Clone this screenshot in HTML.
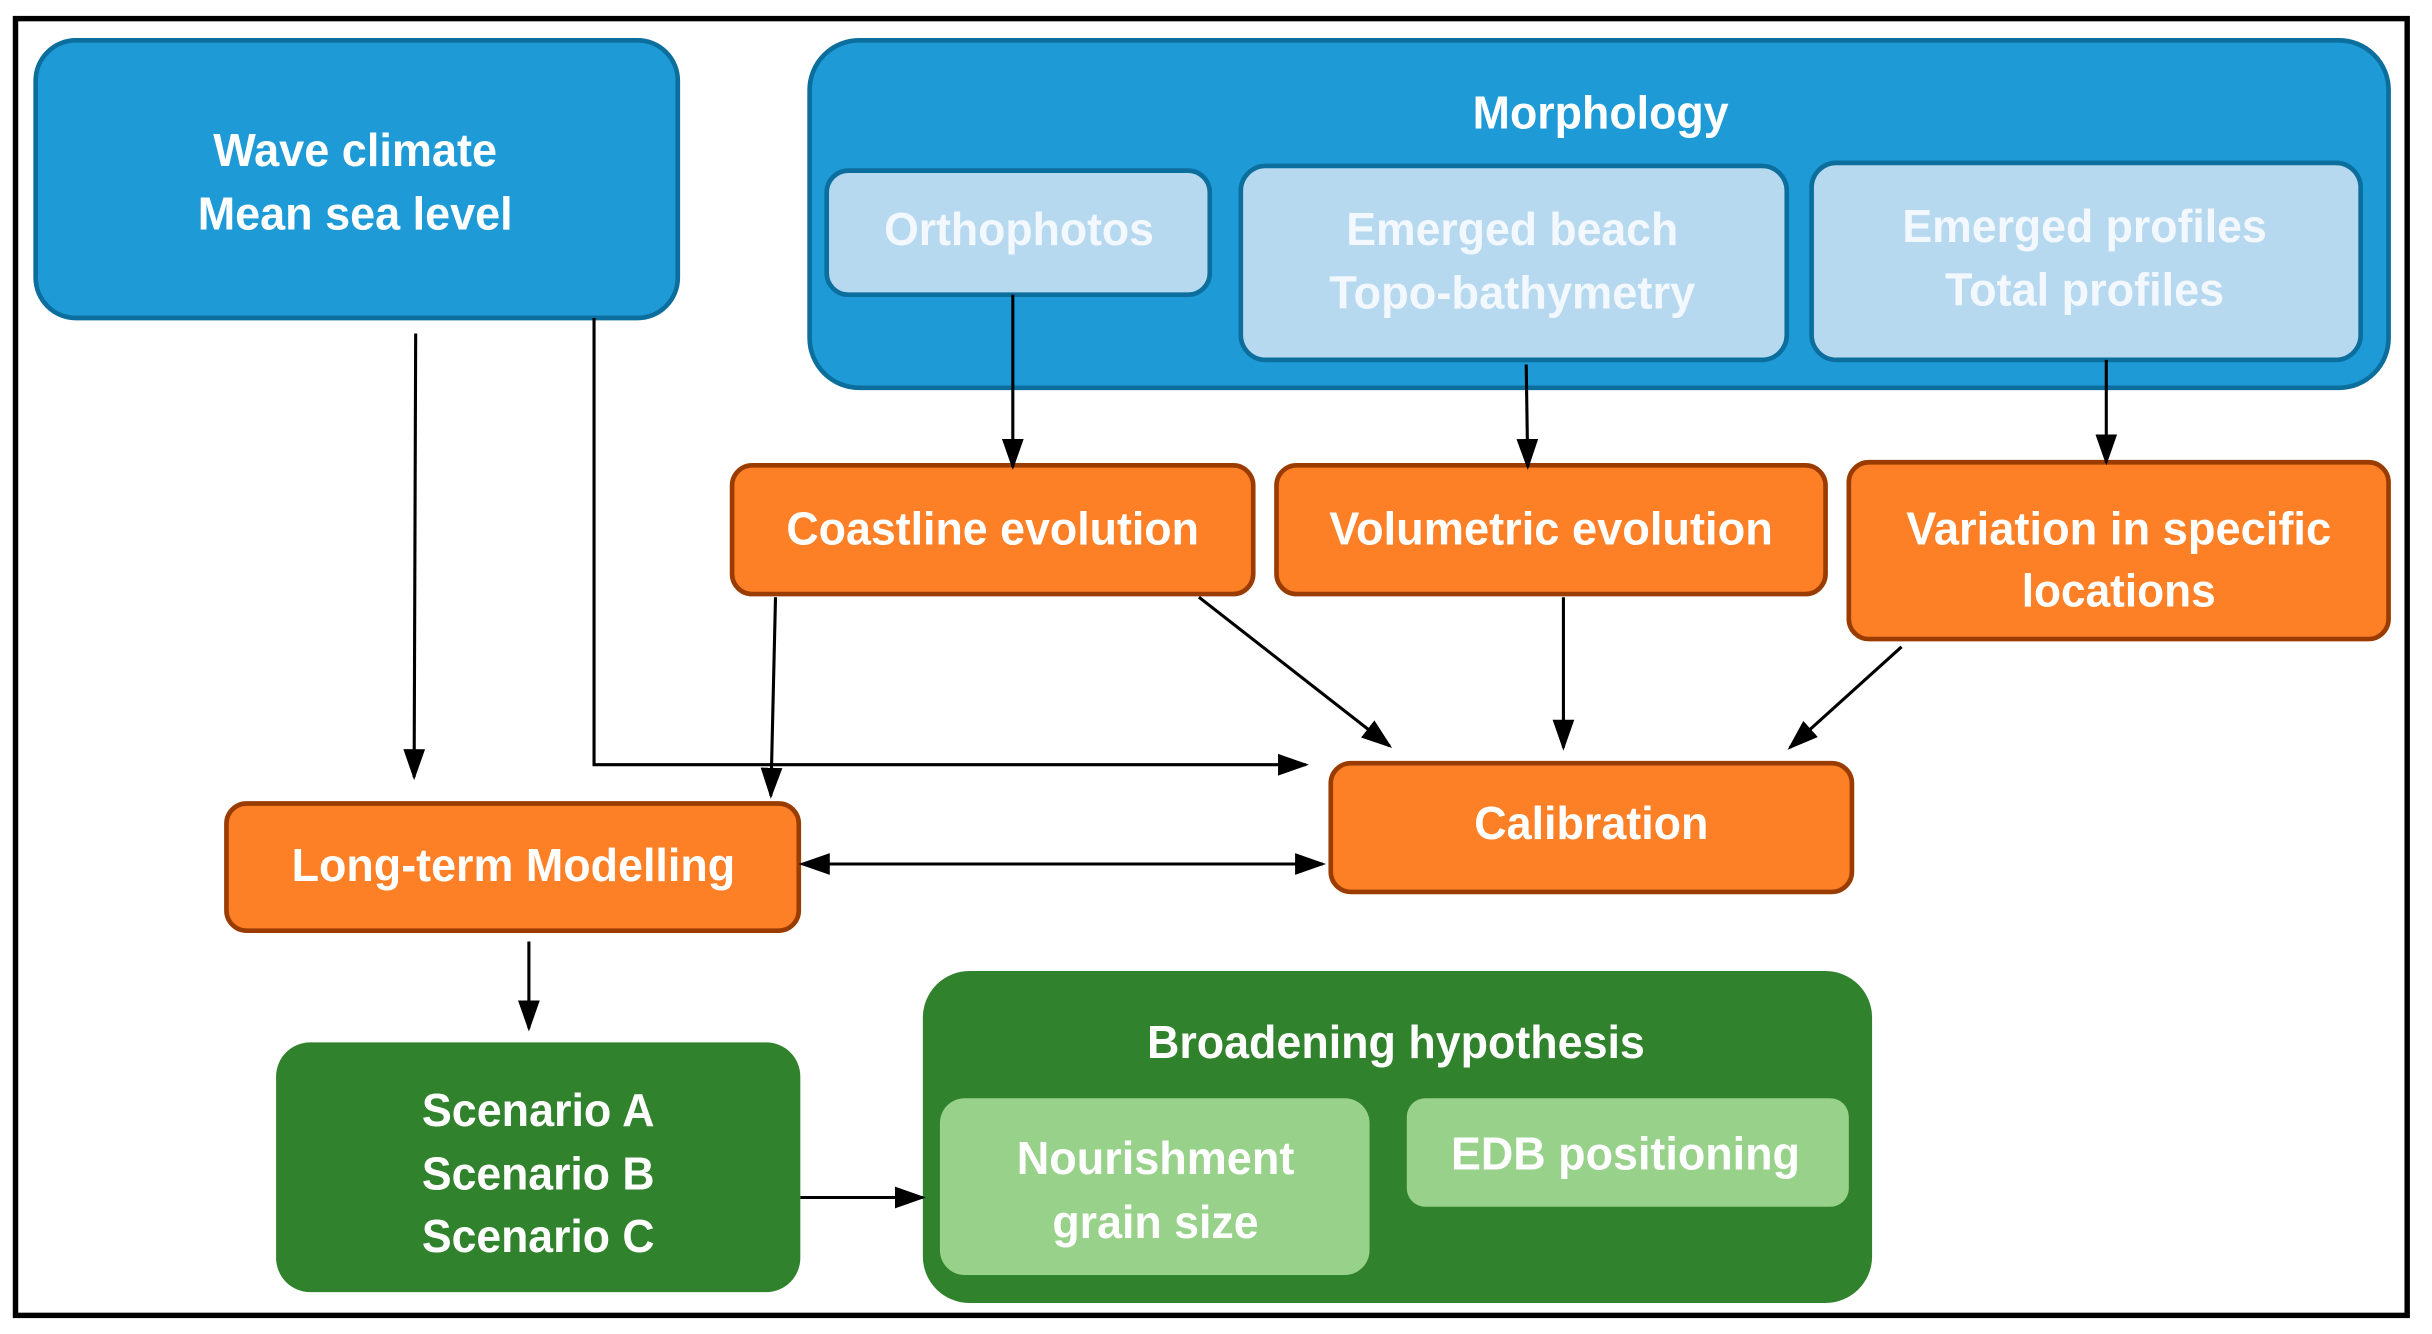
<!DOCTYPE html>
<html><head><meta charset="utf-8"><style>
html,body{margin:0;padding:0;background:#fff}
svg{display:block}
text{font-family:"Liberation Sans",sans-serif;font-weight:bold;font-size:30px;fill:#fff;text-anchor:middle}
.lt{fill:#f2f8fd}
</style></head><body>
<svg width="2432" height="1334" viewBox="0 0 1568 860" preserveAspectRatio="none" xmlns="http://www.w3.org/2000/svg">
<defs>
<marker id="ah2" markerWidth="20" markerHeight="20" refX="18" refY="7" orient="auto" markerUnits="userSpaceOnUse" viewBox="0 0 20 14">
<path d="M0,0 L20,7 L0,14 z" fill="#000"/></marker>
</defs>
<rect x="10" y="12" width="1542" height="836" fill="#fff" stroke="#000" stroke-width="3.5"/>
<rect x="23" y="26" width="414" height="179" rx="26" fill="#1e9bd7" stroke="#0b6e9c" stroke-width="3"/>
<text x="229" y="107" textLength="183" lengthAdjust="spacingAndGlyphs">Wave climate</text>
<text x="229" y="148" textLength="203" lengthAdjust="spacingAndGlyphs">Mean sea level</text>
<rect x="522" y="26" width="1018" height="224" rx="32" fill="#1e9bd7" stroke="#0b6e9c" stroke-width="3"/>
<text x="1032" y="83" textLength="165" lengthAdjust="spacingAndGlyphs">Morphology</text>
<rect x="533" y="110" width="247" height="80" rx="14" fill="#b6d9f0" stroke="#0b6e9c" stroke-width="3"/>
<text class="lt" x="657" y="158" textLength="174" lengthAdjust="spacingAndGlyphs">Orthophotos</text>
<rect x="800" y="107" width="352" height="125" rx="16" fill="#b6d9f0" stroke="#0b6e9c" stroke-width="3"/>
<text class="lt" x="975" y="158" textLength="214" lengthAdjust="spacingAndGlyphs">Emerged beach</text>
<text class="lt" x="975" y="199" textLength="236" lengthAdjust="spacingAndGlyphs">Topo-bathymetry</text>
<rect x="1168" y="105" width="354" height="127" rx="16" fill="#b6d9f0" stroke="#0b6e9c" stroke-width="3"/>
<text class="lt" x="1344" y="156" textLength="235" lengthAdjust="spacingAndGlyphs">Emerged profiles</text>
<text class="lt" x="1344" y="197" textLength="180" lengthAdjust="spacingAndGlyphs">Total profiles</text>
<g fill="#fd7f26" stroke="#9a3c00" stroke-width="3">
<rect x="472" y="300" width="336" height="83" rx="13"/>
<rect x="823" y="300" width="354" height="83" rx="13"/>
<rect x="1192" y="298" width="348" height="114" rx="13"/>
<rect x="858" y="492" width="336" height="83" rx="13"/>
<rect x="146" y="518" width="369" height="82" rx="13"/>
</g>
<text x="640" y="351" textLength="266" lengthAdjust="spacingAndGlyphs">Coastline evolution</text>
<text x="1000" y="351" textLength="286" lengthAdjust="spacingAndGlyphs">Volumetric evolution</text>
<text x="1366" y="351" textLength="274" lengthAdjust="spacingAndGlyphs">Variation in specific</text>
<text x="1366" y="391" textLength="125" lengthAdjust="spacingAndGlyphs">locations</text>
<text x="1026" y="541" textLength="151" lengthAdjust="spacingAndGlyphs">Calibration</text>
<text x="331" y="568" textLength="286" lengthAdjust="spacingAndGlyphs">Long-term Modelling</text>
<rect x="178" y="672" width="338" height="161" rx="22" fill="#31822c"/>
<text x="347" y="726" textLength="150" lengthAdjust="spacingAndGlyphs">Scenario A</text>
<text x="347" y="767" textLength="150" lengthAdjust="spacingAndGlyphs">Scenario B</text>
<text x="347" y="807" textLength="150" lengthAdjust="spacingAndGlyphs">Scenario C</text>
<rect x="595" y="626" width="612" height="214" rx="30" fill="#31822c"/>
<text x="900" y="682" textLength="321" lengthAdjust="spacingAndGlyphs">Broadening hypothesis</text>
<rect x="606" y="708" width="277" height="114" rx="16" fill="#97d18a"/>
<text x="745" y="757" textLength="179" lengthAdjust="spacingAndGlyphs">Nourishment</text>
<text x="745" y="798" textLength="133" lengthAdjust="spacingAndGlyphs">grain size</text>
<rect x="907" y="708" width="285" height="70" rx="12" fill="#97d18a"/>
<text x="1048" y="754" textLength="225" lengthAdjust="spacingAndGlyphs">EDB positioning</text>
<g stroke="#000" stroke-width="2" fill="none" marker-end="url(#ah2)">
<line x1="268" y1="215" x2="267" y2="501"/>
<polyline points="383,205 383,493 842,493"/>
<line x1="653" y1="190" x2="653" y2="301"/>
<line x1="984" y1="235" x2="985" y2="301"/>
<line x1="1358" y1="232" x2="1358" y2="298"/>
<line x1="500" y1="385" x2="497" y2="513"/>
<line x1="773" y1="385" x2="896" y2="481"/>
<line x1="1008" y1="385" x2="1008" y2="482"/>
<line x1="1226" y1="417" x2="1154" y2="482"/>
<line x1="341" y1="607" x2="341" y2="663"/>
<line x1="516" y1="772" x2="595" y2="772"/>
<line x1="530" y1="557" x2="853" y2="557"/>
<line x1="840" y1="557" x2="517" y2="557"/>
</g>
</svg>
</body></html>
